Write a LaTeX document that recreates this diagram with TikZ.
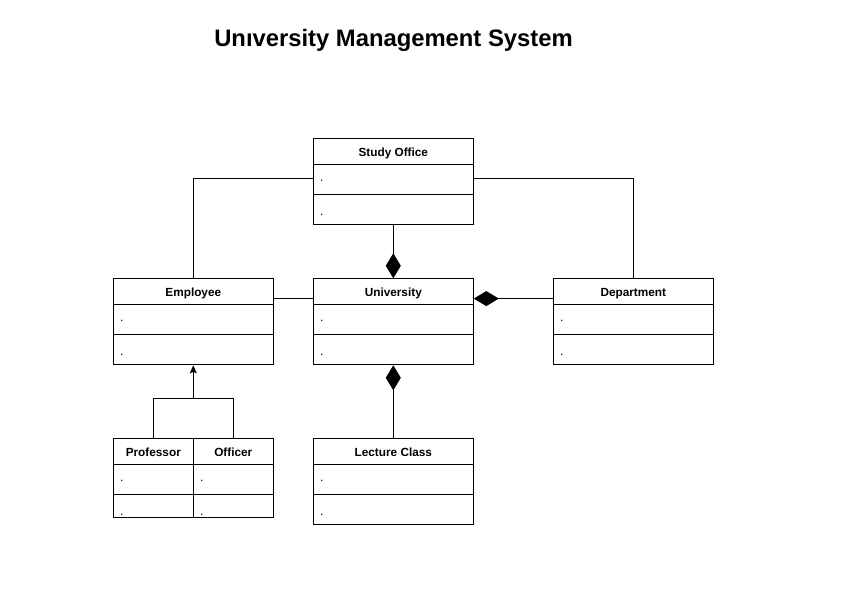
\documentclass[tikz,border=0pt]{standalone}
\usepackage{fontspec}
\setmainfont{Liberation Sans}
\usetikzlibrary{arrows.meta,calc}

% One UML class: name, centre x, top y, width, height, title
\newcommand\ClassBox[6]{%
  \node[classbox, minimum width=#4pt, minimum height=#5pt, anchor=north] (#1) at (#2,#3) {};
  \node[classtitle] (#1-title) at ($(#1.north)+(0,18.3)$) {#6};
  \draw[divider] ($(#1.north west)+(0,26)$) -- ($(#1.north east)+(0,26)$);
  \draw[divider] ($(#1.north west)+(0,56.5)$) -- ($(#1.north east)+(0,56.5)$);
  \node[dotlabel] (#1-attr) at ($(#1.north west)+(7,43)$) {.};
  \node[dotlabel] (#1-op) at ($(#1.north west)+(7,77)$) {.};
}

\tikzset{
  classbox/.style={draw=black, line width=1pt, fill=white, inner sep=0pt, rectangle},
  classtitle/.style={anchor=base, inner sep=0pt, font=\fontsize{11.8}{14}\selectfont\bfseries},
  divider/.style={line width=1pt},
  dotlabel/.style={anchor=base west, inner sep=0pt, font=\fontsize{12}{14}\selectfont},
  conn/.style={line width=1pt, draw=black},
  compose/.style={{Diamond[length=25pt,width=15pt]}-},
  inherit/.style={-{Stealth[length=8pt,width=7pt,inset=1.5pt]}},
  titletext/.style={anchor=base, inner sep=0pt, font=\fontsize{23.8}{28}\selectfont\bfseries}
}

\begin{document}
\begin{tikzpicture}[x=1pt,y=-1pt]
  \useasboundingbox[fill=white] (0,0) rectangle (861,594);

  \node[titletext] (title) at (393.5,46) {Unıversity Management System};

  \ClassBox{so}{393.3}{138.3}{160}{85.5}{Study Office}
  \ClassBox{emp}{193.3}{278.3}{160}{86}{Employee}
  \ClassBox{uni}{393.3}{278.3}{160}{86}{University}
  \ClassBox{dep}{633.3}{278.3}{160}{86}{Department}
  \ClassBox{lec}{393.3}{438.3}{160}{86}{Lecture Class}
  \ClassBox{prof}{153.3}{438.3}{80}{78.5}{Professor}
  \ClassBox{off}{233.3}{438.3}{80}{78.5}{Officer}

  % associations from the study office
  \draw[conn] ($(so.north west)+(0,40)$) -| (emp.north);
  \draw[conn] ($(so.north east)+(0,40)$) -| (dep.north);

  % compositions into the university
  \draw[conn, compose] (uni.north) -- (so.south);
  \draw[conn, compose] ($(uni.north east)+(0,20.3)$) -- ($(dep.north west)+(0,20.3)$);
  \draw[conn, compose] (uni.south) -- (lec.north);

  % employee -- university
  \draw[conn] ($(emp.north east)+(0,20)$) -- ($(uni.north west)+(0,20)$);

  % generalisation of professor and officer
  \coordinate (gen) at (193.3,398.3);
  \draw[conn] (prof.north) |- (gen) -| (off.north);
  \draw[conn, inherit] (gen) -- (emp.south);
\end{tikzpicture}
\end{document}
